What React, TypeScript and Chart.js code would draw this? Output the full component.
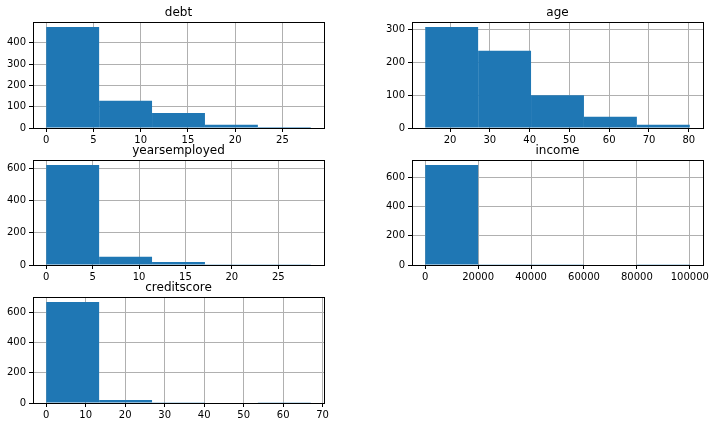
import React, { useEffect, useRef } from "react";
import { Chart, registerables } from "chart.js";

Chart.register(...registerables);

// ---- data ----
const debtEdges = [0, 5.6, 11.2, 16.8, 22.4, 28];
const debtCounts = [474, 128, 71, 15, 5];
const debtXTicks = [0, 5, 10, 15, 20, 25];
const debtYTicks = [0, 100, 200, 300, 400];

const ageEdges = [13.75, 27.05, 40.35, 53.65, 66.95, 80.25];
const ageCounts = [306, 234, 99, 34, 10];
const ageXTicks = [20, 30, 40, 50, 60, 70, 80];
const ageYTicks = [0, 100, 200, 300];

const yearsEdges = [0, 5.7, 11.4, 17.1, 22.8, 28.5];
const yearsCounts = [621, 51, 19, 2, 1];
const yearsXTicks = [0, 5, 10, 15, 20, 25];
const yearsYTicks = [0, 200, 400, 600];

const incomeEdges = [0, 20000, 40000, 60000, 80000, 100000];
const incomeCounts = [686, 2, 1, 0, 1];
const incomeXTicks = [0, 20000, 40000, 60000, 80000, 100000];
const incomeYTicks = [0, 200, 400, 600];

const creditEdges = [0, 13.4, 26.8, 40.2, 53.6, 67];
const creditCounts = [666, 20, 2, 0, 2];
const creditXTicks = [0, 10, 20, 30, 40, 50, 60, 70];
const creditYTicks = [0, 200, 400, 600];

const titles = ["debt", "age", "yearsemployed", "income", "creditscore"];

// ---- layout (plot boxes: left, top, right, bottom) ----
const boxes: number[][] = [
  [33, 22, 324, 128],
  [412, 22, 703, 128],
  [33, 160, 324, 265],
  [412, 160, 703, 265],
  [33, 297, 324, 403],
];

const PAD_L = 33;
const PAD_T = 24;
const PAD_R = 22;
const PAD_B = 24;
const FONT = "'DejaVu Sans', sans-serif";

type HistProps = {
  title: string;
  edges: number[];
  counts: number[];
  xTicks: number[];
  yTicks: number[];
  box: number[];
};

const framePlugin = (title: string) => ({
  id: "frame" + title,
  afterDraw(chart: any) {
    const { ctx, chartArea } = chart;
    const { left, top, right, bottom } = chartArea;
    ctx.save();
    ctx.strokeStyle = "#000";
    ctx.lineWidth = 1;
    ctx.strokeRect(
      Math.round(left) + 0.5,
      Math.round(top) + 0.5,
      Math.round(right) - Math.round(left),
      Math.round(bottom) - Math.round(top)
    );
    ctx.fillStyle = "#000";
    ctx.font = `12px ${FONT}`;
    ctx.textAlign = "center";
    ctx.textBaseline = "alphabetic";
    ctx.fillText(title, (left + right) / 2, top - 6);
    ctx.restore();
  },
});

function Hist({ title, edges, counts, xTicks, yTicks, box }: HistProps) {
  const ref = useRef<HTMLCanvasElement>(null);
  const [L, T, R, B] = box;
  const W = PAD_L + (R - L) + PAD_R;
  const H = PAD_T + (B - T) + PAD_B;

  useEffect(() => {
    const n = edges.length - 1;
    const span = edges[n] - edges[0];
    const xmin = edges[0] - 0.05 * span;
    const xmax = edges[n] + 0.05 * span;
    const ymax = Math.max(...counts) * 1.05;
    const tickFont = { family: FONT, size: 10 };
    const chart = new Chart(ref.current as HTMLCanvasElement, {
      type: "bar",
      data: {
        datasets: [
          {
            xAxisID: "xb",
            data: counts.map((c, i) => ({ x: (edges[i] + edges[i + 1]) / 2, y: c })),
            backgroundColor: "#1f77b4",
            borderWidth: 0,
            inflateAmount: 0,
            barPercentage: 1,
            categoryPercentage: 1,
          } as any,
        ],
      },
      options: {
        animation: false,
        responsive: false,
        devicePixelRatio: 1,
        layout: { padding: { left: 0, top: PAD_T, right: PAD_R, bottom: 0 } },
        plugins: {
          legend: { display: false },
          tooltip: { enabled: false },
          title: { display: false },
        },
        scales: {
          xb: {
            type: "linear",
            display: false,
            offset: false,
            min: xmin,
            max: xmax,
            afterBuildTicks: (s: any) => {
              s.ticks = edges.map((v) => ({ value: v }));
            },
          },
          x: {
            type: "linear",
            offset: false,
            min: xmin,
            max: xmax,
            z: 1,
            afterBuildTicks: (s: any) => {
              s.ticks = xTicks.map((v) => ({ value: v }));
            },
            afterFit: (s: any) => {
              s.height = PAD_B;
              s.paddingLeft = 0;
              s.paddingRight = 0;
            },
            grid: {
              offset: false,
              color: "#b0b0b0",
              lineWidth: 1,
              tickLength: 4,
              tickColor: "#000",
              tickWidth: 1,
            },
            border: { display: false },
            ticks: {
              maxRotation: 0,
              autoSkip: false,
              padding: 2,
              color: "#000",
              font: tickFont,
              callback: (v: any) => String(v),
            },
          },
          y: {
            type: "linear",
            min: 0,
            max: ymax,
            z: 1,
            afterBuildTicks: (s: any) => {
              s.ticks = yTicks.map((v) => ({ value: v }));
            },
            afterFit: (s: any) => {
              s.width = PAD_L;
              s.paddingTop = 0;
              s.paddingBottom = 0;
            },
            grid: {
              offset: false,
              color: "#b0b0b0",
              lineWidth: 1,
              tickLength: 4,
              tickColor: "#000",
              tickWidth: 1,
            },
            border: { display: false },
            ticks: {
              autoSkip: false,
              padding: 3,
              color: "#000",
              font: tickFont,
              callback: (v: any) => String(v),
            },
          },
        },
      } as any,
      plugins: [framePlugin(title)],
    });
    return () => chart.destroy();
  }, []);

  return (
    <canvas
      ref={ref}
      width={W}
      height={H}
      style={{ position: "absolute", left: L - PAD_L, top: T - PAD_T, width: W, height: H }}
    />
  );
}

export default function App() {
  const panels = [
    { edges: debtEdges, counts: debtCounts, xTicks: debtXTicks, yTicks: debtYTicks },
    { edges: ageEdges, counts: ageCounts, xTicks: ageXTicks, yTicks: ageYTicks },
    { edges: yearsEdges, counts: yearsCounts, xTicks: yearsXTicks, yTicks: yearsYTicks },
    { edges: incomeEdges, counts: incomeCounts, xTicks: incomeXTicks, yTicks: incomeYTicks },
    { edges: creditEdges, counts: creditCounts, xTicks: creditXTicks, yTicks: creditYTicks },
  ];
  return (
    <div
      style={{
        position: "fixed",
        left: 0,
        top: 0,
        width: 716,
        height: 427,
        overflow: "hidden",
        background: "#fff",
      }}
    >
      {panels.map((p, i) => (
        <Hist key={titles[i]} title={titles[i]} box={boxes[i]} {...p} />
      ))}
    </div>
  );
}
